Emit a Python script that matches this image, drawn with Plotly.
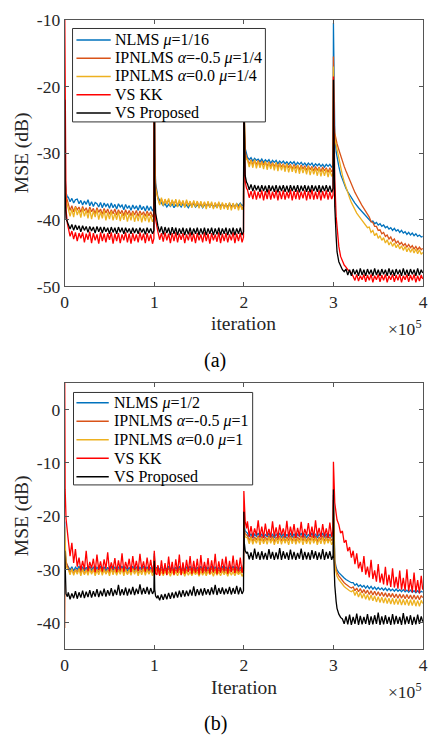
import plotly.graph_objects as go

W, H = 429, 746

# iteration grid in thousands (shared by both panels)
ITER_K = [
    0, 0.5, 1.5, 3, 4, 6, 8, 10, 12, 14, 16, 18, 20, 22, 24, 26, 28, 30, 32, 34, 36, 38, 40, 42, 44, 46, 48, 50, 52, 54, 56, 58, 60, 62, 64, 66, 68, 70, 72, 74, 76, 78, 80, 82, 84, 86, 88, 90, 92, 94, 96, 98, 99.6,
    100, 100.5, 101.5, 103, 104, 106, 108, 110, 112, 114, 116, 118, 120, 122, 124, 126, 128, 130, 132, 134, 136, 138, 140, 142, 144, 146, 148, 150, 152, 154, 156, 158, 160, 162, 164, 166, 168, 170, 172, 174, 176, 178, 180, 182, 184, 186, 188, 190, 192, 194, 196, 198, 199.6,
    200, 200.5, 201.5, 203, 204, 206, 208, 210, 212, 214, 216, 218, 220, 222, 224, 226, 228, 230, 232, 234, 236, 238, 240, 242, 244, 246, 248, 250, 252, 254, 256, 258, 260, 262, 264, 266, 268, 270, 272, 274, 276, 278, 280, 282, 284, 286, 288, 290, 292, 294, 296, 298, 299.6,
    300, 300.5, 301.5, 303, 304, 306, 308, 310, 312, 314, 316, 318, 320, 322, 324, 326, 328, 330, 332, 334, 336, 338, 340, 342, 344, 346, 348, 350, 352, 354, 356, 358, 360, 362, 364, 366, 368, 370, 372, 374, 376, 378, 380, 382, 384, 386, 388, 390, 392, 394, 396, 398, 399.6,
]

X_TICKS = [0, 100000, 200000, 300000, 400000]
X_TICKTEXT = ["0", "1", "2", "3", "4"]
YA_TICKS = [-50, -40, -30, -20, -10]
YB_TICKS = [-40, -30, -20, -10, 0]

NAMES_A = ["NLMS <i>μ</i>=1/16", "IPNLMS <i>α</i>=-0.5 <i>μ</i>=1/4", "IPNLMS <i>α</i>=0.0 <i>μ</i>=1/4", "VS KK", "VS Proposed"]
NAMES_B = ["NLMS <i>μ</i>=1/2", "IPNLMS <i>α</i>=-0.5 <i>μ</i>=1", "IPNLMS <i>α</i>=0.0 <i>μ</i>=1", "VS KK", "VS Proposed"]

# ---------------- panel (a) MSE (dB) ----------------
A_NLMS = [
    -24, -33.5, -35.9, -36.6, -36.6, -37.3, -36.8, -37.5, -37.0, -36.9, -37.6, -37.1, -37.8, -37.2, -37.7, -37.0, -37.9, -37.3, -38.0, -37.4, -37.6, -38.1, -37.4, -38.2, -37.5, -38.0, -37.6, -38.3, -37.5, -38.2, -37.7, -38.4, -37.6, -38.1, -37.8, -38.5, -37.7, -38.3, -37.9, -38.6, -37.8, -38.4, -37.9, -38.6, -37.8, -38.5, -38.0, -38.7, -37.9, -38.6, -38.0, -38.7, -38.3,
    -16, -30, -34.5, -36.2, -36.6, -37.1, -37.5, -37.9, -37.6, -38.1, -37.7, -38.0, -37.6, -38.2, -37.8, -38.0, -37.7, -38.1, -37.6, -38.0, -37.8, -38.2, -37.7, -37.9, -37.6, -38.1, -37.8, -38.0, -37.7, -38.2, -37.8, -37.9, -37.6, -38.1, -37.7, -38.0, -37.8, -38.2, -37.6, -37.9, -37.7, -38.1, -37.8, -38.0, -37.6, -38.0, -37.7, -38.1, -37.6, -37.9, -37.5, -37.9, -37.7,
    -20, -27, -29.3, -30.3, -30.6, -31.0, -30.7, -31.2, -30.8, -31.1, -30.9, -31.3, -30.9, -31.4, -31.0, -31.3, -31.0, -31.5, -31.1, -31.4, -31.1, -31.6, -31.2, -31.5, -31.2, -31.6, -31.3, -31.7, -31.3, -31.6, -31.3, -31.8, -31.4, -31.7, -31.4, -31.8, -31.5, -31.9, -31.5, -31.8, -31.5, -32.0, -31.6, -31.9, -31.6, -32.0, -31.7, -32.1, -31.7, -32.0, -31.7, -32.1, -31.9,
    -10.5, -22, -27, -29.8, -30.8, -32.0, -33.2, -34.0, -34.8, -35.3, -35.8, -36.3, -36.7, -37.1, -37.5, -37.9, -38.2, -38.5, -38.8, -39.1, -39.4, -39.6, -39.9, -40.3, -40.2, -40.6, -40.4, -40.8, -40.6, -41.0, -40.8, -41.2, -41.0, -41.4, -41.2, -41.6, -41.3, -41.7, -41.5, -41.9, -41.6, -42.0, -41.8, -42.2, -41.9, -42.3, -42.0, -42.4, -42.1, -42.5, -42.3, -42.6, -42.5,
]
A_IP05 = [
    -24, -34, -36.4, -37.3, -37.7, -38.6, -37.9, -38.8, -38.0, -38.5, -38.1, -38.9, -38.0, -38.7, -38.2, -39.0, -38.1, -38.8, -38.3, -39.1, -38.2, -38.9, -38.4, -39.2, -38.3, -39.0, -38.4, -39.2, -38.5, -39.1, -38.4, -39.3, -38.5, -39.1, -38.6, -39.4, -38.5, -39.2, -38.6, -39.4, -38.7, -39.3, -38.6, -39.5, -38.7, -39.3, -38.8, -39.5, -38.7, -39.4, -38.8, -39.6, -39.0,
    -18, -30.5, -35, -36.4, -36.8, -37.6, -36.9, -37.7, -37.0, -37.6, -37.0, -37.8, -37.1, -37.7, -37.1, -37.9, -37.2, -37.8, -37.2, -38.0, -37.2, -37.8, -37.3, -38.0, -37.3, -37.9, -37.3, -38.1, -37.4, -38.0, -37.4, -38.1, -37.4, -38.0, -37.5, -38.2, -37.5, -38.1, -37.5, -38.2, -37.6, -38.1, -37.6, -38.3, -37.6, -38.2, -37.6, -38.3, -37.7, -38.2, -37.7, -38.3, -38.0,
    -21, -27.5, -29.8, -30.7, -30.9, -31.7, -31.0, -31.8, -31.1, -31.7, -31.1, -31.9, -31.2, -31.8, -31.3, -32.0, -31.3, -32.1, -31.4, -32.0, -31.5, -32.2, -31.5, -32.1, -31.6, -32.3, -31.6, -32.2, -31.7, -32.4, -31.7, -32.3, -31.8, -32.5, -31.8, -32.4, -31.9, -32.6, -31.9, -32.5, -32.0, -32.7, -32.0, -32.6, -32.1, -32.8, -32.1, -32.7, -32.2, -32.9, -32.2, -32.8, -32.5,
    -15.5, -24.5, -27, -28.1, -28.6, -29.5, -30.4, -31.2, -32.0, -32.7, -33.4, -34.1, -34.7, -35.3, -35.9, -36.4, -37.0, -37.4, -37.9, -38.3, -38.8, -39.3, -39.6, -40.3, -40.4, -41.0, -41.0, -41.6, -41.5, -42.1, -41.9, -42.5, -42.3, -42.9, -42.6, -43.2, -42.9, -43.5, -43.2, -43.7, -43.4, -43.9, -43.6, -44.1, -43.7, -44.2, -43.9, -44.4, -44.0, -44.5, -44.1, -44.5, -44.3,
]
A_IP00 = [
    -25, -34.5, -36.9, -37.9, -38.2, -39.5, -38.4, -39.6, -38.1, -39.3, -38.5, -39.7, -38.3, -39.5, -38.6, -39.8, -38.4, -39.9, -38.7, -39.6, -38.5, -40.0, -38.8, -39.8, -38.6, -40.1, -38.9, -39.9, -38.7, -40.1, -39.0, -40.0, -38.8, -40.2, -39.0, -40.0, -38.9, -40.3, -39.1, -40.1, -38.9, -40.3, -39.2, -40.2, -39.0, -40.4, -39.2, -40.2, -39.1, -40.4, -39.3, -40.3, -39.8,
    -19, -31, -35.3, -36.5, -36.8, -37.8, -36.7, -37.9, -36.9, -37.7, -36.8, -38.0, -37.0, -37.9, -36.9, -38.1, -37.0, -37.9, -37.1, -38.2, -37.0, -38.0, -37.2, -38.2, -37.1, -38.1, -37.2, -38.3, -37.2, -38.2, -37.3, -38.4, -37.2, -38.2, -37.3, -38.4, -37.4, -38.3, -37.3, -38.5, -37.4, -38.4, -37.5, -38.5, -37.4, -38.6, -37.5, -38.4, -37.5, -38.6, -37.6, -38.5, -38.0,
    -22, -28, -30.2, -31.0, -31.0, -32.1, -31.1, -32.2, -31.0, -32.3, -31.2, -32.2, -31.3, -32.4, -31.2, -32.5, -31.4, -32.4, -31.5, -32.6, -31.4, -32.7, -31.6, -32.6, -31.7, -32.8, -31.6, -32.9, -31.8, -32.8, -31.9, -33.0, -31.8, -33.1, -32.0, -33.0, -32.1, -33.2, -32.0, -33.3, -32.2, -33.2, -32.3, -33.4, -32.2, -33.5, -32.4, -33.4, -32.4, -33.6, -32.5, -33.5, -33.0,
    -17, -25.5, -27.8, -28.8, -29.6, -30.9, -32.2, -33.3, -34.3, -35.2, -36.0, -36.7, -37.4, -38.0, -38.5, -39.0, -39.4, -39.8, -40.2, -40.5, -40.9, -41.2, -41.1, -41.9, -41.6, -42.4, -42.0, -42.8, -42.4, -43.1, -42.7, -43.5, -43.0, -43.8, -43.3, -44.0, -43.5, -44.2, -43.7, -44.4, -43.9, -44.6, -44.0, -44.8, -44.2, -44.9, -44.3, -45.0, -44.4, -45.1, -44.5, -45.2, -44.9,
]
A_VSKK = [
    -8, -31, -38.5, -40.6, -41.3, -42.5, -41.7, -42.9, -41.9, -43.2, -42.0, -42.8, -41.9, -43.4, -42.1, -43.0, -41.8, -43.5, -42.0, -43.1, -42.2, -43.6, -41.9, -43.2, -42.1, -43.4, -42.0, -43.0, -41.9, -43.6, -42.1, -43.2, -42.0, -43.5, -42.2, -43.1, -41.9, -43.4, -42.1, -43.6, -42.0, -43.2, -42.2, -43.4, -41.9, -43.1, -42.1, -43.5, -42.0, -43.2, -42.2, -43.6, -42.8,
    -14, -34, -40, -41.5, -41.8, -43.0, -42.0, -43.3, -41.9, -43.1, -42.1, -43.5, -42.0, -43.2, -41.9, -43.4, -42.1, -43.0, -42.0, -43.5, -42.2, -43.1, -41.9, -43.3, -42.1, -43.5, -42.0, -43.1, -42.2, -43.4, -41.9, -43.2, -42.1, -43.6, -42.0, -43.1, -42.2, -43.3, -41.9, -43.5, -42.1, -43.2, -42.0, -43.4, -42.2, -43.1, -41.9, -43.5, -42.1, -43.2, -42.0, -43.4, -42.6,
    -22, -31, -34.3, -35.3, -35.5, -36.7, -35.7, -36.9, -35.6, -37.0, -35.8, -36.8, -35.6, -37.1, -35.7, -36.9, -35.5, -37.0, -35.8, -36.8, -35.6, -37.1, -35.7, -36.9, -35.6, -37.0, -35.8, -36.8, -35.5, -37.1, -35.7, -36.9, -35.6, -37.0, -35.8, -36.8, -35.6, -37.1, -35.7, -36.9, -35.5, -37.0, -35.8, -36.9, -35.6, -37.1, -35.7, -36.8, -35.6, -37.0, -35.8, -36.9, -36.3,
    -18.5, -27, -34, -39.5, -41.5, -44.0, -45.5, -46.2, -46.8, -47.1, -47.5, -47.7, -48.0, -48.5, -49.1, -48.2, -49.2, -48.4, -49.0, -48.2, -49.3, -48.3, -49.1, -48.2, -49.4, -48.4, -49.0, -48.2, -49.3, -48.3, -49.1, -48.2, -49.4, -48.4, -49.0, -48.2, -49.3, -48.3, -49.1, -48.2, -49.4, -48.4, -49.0, -48.2, -49.3, -48.3, -49.1, -48.2, -49.4, -48.4, -49.2, -48.3, -48.9,
]
A_VSP = [
    -22, -36, -39.8, -40.4, -40.6, -41.4, -40.7, -41.6, -40.8, -41.5, -40.9, -41.8, -40.9, -41.6, -41.0, -41.9, -41.0, -41.7, -41.1, -42.0, -41.0, -41.8, -41.1, -42.0, -41.1, -41.8, -41.2, -42.1, -41.1, -41.9, -41.2, -42.1, -41.1, -41.9, -41.2, -42.1, -41.2, -41.9, -41.3, -42.1, -41.2, -42.0, -41.3, -42.1, -41.2, -41.9, -41.3, -42.2, -41.2, -42.0, -41.3, -42.1, -41.6,
    -13, -34, -39, -40.5, -40.9, -41.9, -41.0, -42.2, -41.1, -42.0, -41.2, -42.3, -41.1, -42.1, -41.2, -42.3, -41.3, -42.1, -41.2, -42.3, -41.3, -42.2, -41.2, -42.3, -41.3, -42.1, -41.2, -42.3, -41.3, -42.2, -41.2, -42.3, -41.3, -42.1, -41.2, -42.3, -41.3, -42.2, -41.2, -42.3, -41.3, -42.1, -41.2, -42.3, -41.3, -42.2, -41.2, -42.3, -41.3, -42.1, -41.2, -42.3, -41.8,
    -20, -30, -33.4, -34.4, -34.6, -35.5, -34.7, -35.7, -34.8, -35.6, -34.9, -35.8, -34.8, -35.7, -34.9, -35.9, -34.8, -35.7, -34.9, -35.8, -34.8, -35.9, -34.9, -35.7, -34.8, -35.8, -34.9, -35.9, -34.8, -35.7, -34.9, -35.8, -34.8, -35.9, -34.9, -35.7, -34.8, -35.8, -34.9, -35.9, -34.8, -35.7, -34.9, -35.8, -34.8, -35.9, -34.9, -35.7, -34.8, -35.8, -34.9, -35.9, -35.3,
    -19, -31, -38, -42.5, -44.8, -46.3, -47.0, -47.5, -47.8, -47.4, -48.3, -47.5, -48.4, -47.4, -48.2, -47.5, -48.4, -47.3, -48.3, -47.5, -48.4, -47.4, -48.2, -47.5, -48.4, -47.3, -48.3, -47.5, -48.4, -47.4, -48.2, -47.5, -48.4, -47.3, -48.3, -47.5, -48.4, -47.4, -48.2, -47.5, -48.4, -47.3, -48.3, -47.5, -48.4, -47.4, -48.2, -47.5, -48.4, -47.3, -48.3, -47.5, -48.0,
]

# ---------------- panel (b) MSE (dB) ----------------
B_NLMS = [
    -21, -27, -28.8, -29.3, -29.4, -30.1, -29.5, -30.3, -29.6, -30.0, -29.4, -30.2, -29.5, -30.3, -29.6, -30.1, -29.4, -30.2, -29.5, -30.3, -29.6, -30.0, -29.4, -30.2, -29.5, -30.3, -29.6, -30.1, -29.4, -30.2, -29.5, -30.3, -29.6, -30.0, -29.4, -30.2, -29.5, -30.3, -29.6, -30.1, -29.4, -30.2, -29.5, -30.3, -29.6, -30.0, -29.4, -30.2, -29.5, -30.3, -29.6, -30.1, -29.8,
    -27, -29.0, -29.6, -29.8, -29.4, -30.1, -29.5, -30.3, -29.6, -30.0, -29.4, -30.2, -29.5, -30.3, -29.6, -30.1, -29.4, -30.2, -29.5, -30.3, -29.6, -30.0, -29.4, -30.2, -29.5, -30.3, -29.6, -30.1, -29.4, -30.2, -29.5, -30.3, -29.6, -30.0, -29.4, -30.2, -29.5, -30.3, -29.6, -30.1, -29.4, -30.2, -29.5, -30.3, -29.6, -30.0, -29.4, -30.2, -29.5, -30.3, -29.6, -30.1, -29.8,
    -19, -22, -22.8, -23.1, -23.2, -23.9, -23.3, -24.1, -23.4, -23.8, -23.2, -24.0, -23.3, -24.1, -23.4, -23.9, -23.2, -24.0, -23.3, -24.1, -23.4, -23.8, -23.2, -24.0, -23.3, -24.1, -23.4, -23.9, -23.2, -24.0, -23.3, -24.1, -23.4, -23.8, -23.2, -24.0, -23.3, -24.1, -23.4, -23.9, -23.2, -24.0, -23.3, -24.1, -23.4, -23.8, -23.2, -24.0, -23.3, -24.1, -23.4, -23.9, -23.6,
    -16, -25, -28.2, -29.6, -30.1, -30.6, -31.0, -31.3, -31.6, -31.9, -32.1, -32.3, -32.5, -32.5, -33.0, -32.7, -33.2, -32.9, -33.3, -33.0, -33.5, -33.1, -33.6, -33.2, -33.7, -33.3, -33.8, -33.4, -33.8, -33.5, -33.9, -33.5, -34.0, -33.6, -34.0, -33.7, -34.1, -33.7, -34.1, -33.8, -34.2, -33.8, -34.2, -33.9, -34.3, -33.9, -34.3, -34.0, -34.4, -34.0, -34.4, -34.1, -34.3,
]
B_IP05 = [
    -41, -26, -28.5, -29.6, -29.8, -30.6, -29.9, -30.8, -30.0, -30.5, -29.8, -30.7, -29.9, -30.8, -30.0, -30.6, -29.8, -30.7, -29.9, -30.8, -30.0, -30.5, -29.8, -30.7, -29.9, -30.8, -30.0, -30.6, -29.8, -30.7, -29.9, -30.8, -30.0, -30.5, -29.8, -30.7, -29.9, -30.8, -30.0, -30.6, -29.8, -30.7, -29.9, -30.8, -30.0, -30.5, -29.8, -30.7, -29.9, -30.8, -30.0, -30.6, -30.2,
    -27.5, -29.3, -29.8, -30.0, -29.8, -30.6, -29.9, -30.8, -30.0, -30.5, -29.8, -30.7, -29.9, -30.8, -30.0, -30.6, -29.8, -30.7, -29.9, -30.8, -30.0, -30.5, -29.8, -30.7, -29.9, -30.8, -30.0, -30.6, -29.8, -30.7, -29.9, -30.8, -30.0, -30.5, -29.8, -30.7, -29.9, -30.8, -30.0, -30.6, -29.8, -30.7, -29.9, -30.8, -30.0, -30.5, -29.8, -30.7, -29.9, -30.8, -30.0, -30.6, -30.2,
    -19, -22.5, -23.3, -23.6, -23.7, -24.6, -23.8, -24.8, -23.9, -24.5, -23.7, -24.7, -23.8, -24.8, -23.9, -24.6, -23.7, -24.7, -23.8, -24.8, -23.9, -24.5, -23.7, -24.7, -23.8, -24.8, -23.9, -24.6, -23.7, -24.7, -23.8, -24.8, -23.9, -24.5, -23.7, -24.7, -23.8, -24.8, -23.9, -24.6, -23.7, -24.7, -23.8, -24.8, -23.9, -24.5, -23.7, -24.7, -23.8, -24.8, -23.9, -24.6, -24.2,
    -17, -25.5, -28.7, -30.0, -30.6, -31.2, -31.7, -32.1, -32.5, -32.8, -33.1, -33.3, -33.5, -33.3, -34.0, -33.5, -34.2, -33.6, -34.4, -33.8, -34.5, -33.9, -34.7, -34.0, -34.8, -34.1, -34.9, -34.2, -35.0, -34.3, -35.1, -34.4, -35.2, -34.5, -35.2, -34.5, -35.3, -34.6, -35.4, -34.6, -35.4, -34.7, -35.5, -34.7, -35.5, -34.8, -35.6, -34.8, -35.6, -34.9, -35.7, -34.9, -35.3,
]
B_IP00 = [
    -22, -27.5, -29.3, -29.9, -30.0, -31.0, -29.9, -31.1, -30.1, -30.9, -29.9, -31.2, -30.0, -31.0, -30.1, -31.1, -29.9, -30.9, -30.0, -31.2, -30.1, -31.0, -29.9, -31.1, -30.0, -30.9, -30.1, -31.2, -29.9, -31.0, -30.0, -31.1, -30.1, -30.9, -29.9, -31.2, -30.0, -31.0, -30.1, -31.1, -29.9, -30.9, -30.0, -31.2, -30.1, -31.0, -29.9, -31.1, -30.0, -30.9, -30.1, -31.2, -30.6,
    -28, -29.8, -30.2, -30.3, -30.3, -31.1, -30.4, -31.2, -30.3, -31.0, -30.4, -31.3, -30.3, -31.1, -30.4, -31.2, -30.3, -31.0, -30.4, -31.3, -30.3, -31.1, -30.4, -31.2, -30.3, -31.0, -30.4, -31.3, -30.3, -31.1, -30.4, -31.2, -30.3, -31.0, -30.4, -31.3, -30.3, -31.1, -30.4, -31.2, -30.3, -31.0, -30.4, -31.3, -30.3, -31.1, -30.4, -31.2, -30.3, -31.0, -30.4, -31.3, -30.8,
    -20, -23, -23.9, -24.1, -24.1, -25.2, -24.0, -25.3, -24.2, -25.1, -24.0, -25.4, -24.1, -25.2, -24.2, -25.3, -24.0, -25.1, -24.1, -25.4, -24.2, -25.2, -24.0, -25.3, -24.1, -25.1, -24.2, -25.4, -24.0, -25.2, -24.1, -25.3, -24.2, -25.1, -24.0, -25.4, -24.1, -25.2, -24.2, -25.3, -24.0, -25.1, -24.1, -25.4, -24.2, -25.2, -24.0, -25.3, -24.1, -25.1, -24.2, -25.4, -24.7,
    -18, -26, -29.2, -30.6, -31.3, -31.9, -32.4, -32.8, -33.2, -33.5, -33.8, -34.0, -34.2, -33.9, -34.9, -34.1, -35.2, -34.3, -35.4, -34.5, -35.6, -34.7, -35.8, -34.8, -35.9, -35.0, -36.1, -35.1, -36.2, -35.2, -36.3, -35.3, -36.4, -35.4, -36.5, -35.4, -36.6, -35.5, -36.6, -35.5, -36.7, -35.6, -36.7, -35.6, -36.8, -35.7, -36.8, -35.7, -36.9, -35.8, -36.9, -35.8, -36.4,
]
B_VSKK = [
    6, -15, -20.5, -23.5, -24.5, -27.5, -25.0, -28.8, -26.2, -29.5, -27.8, -30.2, -28.4, -30.0, -26.5, -30.3, -28.6, -29.8, -28.0, -30.5, -27.2, -30.1, -28.5, -30.4, -28.1, -29.9, -26.8, -30.3, -28.7, -30.0, -27.9, -30.5, -28.3, -30.2, -27.0, -30.4, -28.6, -29.9, -28.0, -30.5, -27.5, -30.1, -28.4, -30.3, -27.1, -30.0, -28.5, -30.4, -27.8, -30.2, -28.2, -30.5, -28.8,
    -26.5, -29.5, -30.8, -31.0, -29.2, -31.2, -28.3, -30.9, -28.8, -31.1, -27.6, -30.7, -28.6, -31.0, -28.1, -30.6, -27.2, -31.1, -28.7, -30.8, -28.2, -30.5, -27.5, -30.9, -28.4, -30.6, -28.0, -31.0, -27.3, -30.7, -28.6, -30.4, -27.9, -30.8, -28.3, -30.5, -27.1, -30.9, -28.5, -30.6, -28.0, -30.3, -27.6, -30.8, -28.4, -30.5, -27.4, -30.7, -28.2, -30.4, -27.8, -30.6, -29.0,
    -15.3, -19.5, -21.0, -22.3, -21.0, -23.8, -21.9, -24.0, -22.3, -23.6, -20.8, -23.9, -22.0, -24.1, -21.4, -23.7, -22.4, -24.0, -21.0, -23.8, -22.1, -24.1, -21.6, -23.6, -22.3, -23.9, -20.9, -24.0, -22.0, -23.7, -21.5, -24.1, -22.2, -23.8, -21.1, -24.0, -22.4, -23.6, -21.3, -23.9, -22.0, -24.1, -20.8, -23.7, -22.2, -24.0, -21.5, -23.8, -22.3, -24.1, -21.2, -23.9, -22.6,
    -9.8, -14.5, -17.5, -19.5, -20.7, -21.6, -23.2, -22.8, -25.0, -24.5, -26.6, -25.8, -27.8, -26.5, -29.0, -27.0, -29.8, -28.6, -30.5, -27.5, -31.0, -29.5, -31.5, -28.2, -31.8, -30.2, -32.3, -29.0, -32.5, -30.8, -32.8, -29.5, -33.0, -31.0, -33.3, -29.8, -33.4, -31.4, -33.6, -30.2, -33.8, -31.6, -34.0, -30.0, -34.1, -31.8, -34.3, -30.6, -34.3, -32.0, -34.5, -31.2, -33.8,
]
B_VSP = [
    -26.5, -32.5, -34.6, -35.1, -34.3, -35.6, -34.5, -35.4, -34.1, -35.5, -34.3, -35.3, -34.0, -35.4, -34.2, -35.2, -33.9, -35.3, -34.1, -35.1, -33.7, -35.2, -34.0, -35.0, -33.6, -35.1, -33.9, -34.9, -33.5, -35.0, -33.8, -34.8, -32.9, -34.9, -33.7, -34.8, -33.4, -34.9, -33.6, -34.7, -33.3, -34.8, -33.6, -34.6, -32.8, -34.7, -33.5, -34.6, -33.3, -34.7, -33.5, -34.6, -34.0,
    -28.4, -33.8, -35.0, -35.4, -34.9, -35.8, -34.7, -35.7, -34.6, -35.6, -34.4, -35.5, -34.3, -35.4, -34.2, -35.3, -34.0, -35.2, -33.9, -35.1, -34.0, -35.0, -33.8, -34.9, -33.2, -35.0, -33.7, -34.8, -33.6, -34.9, -33.5, -34.7, -33.7, -34.8, -33.4, -34.7, -32.9, -34.8, -33.5, -34.6, -33.4, -34.7, -33.6, -34.6, -33.3, -34.7, -33.5, -34.6, -33.1, -34.7, -33.4, -34.6, -34.0,
    -19.2, -25.0, -26.5, -27.0, -26.7, -28.1, -26.8, -28.2, -26.1, -28.0, -26.7, -28.2, -26.6, -28.1, -26.9, -28.2, -26.2, -28.0, -26.7, -28.2, -26.8, -28.1, -26.0, -28.2, -26.6, -28.0, -26.8, -28.2, -26.3, -28.1, -26.7, -28.2, -26.9, -28.0, -26.1, -28.2, -26.7, -28.1, -26.8, -28.2, -26.4, -28.0, -26.6, -28.2, -26.8, -28.1, -26.2, -28.2, -26.7, -28.0, -26.6, -28.2, -27.4,
    -15, -28, -33, -36, -37.3, -38.4, -39.0, -39.3, -40.2, -38.8, -40.3, -38.5, -40.4, -38.9, -40.2, -38.3, -40.4, -38.7, -40.3, -38.9, -40.2, -38.4, -40.4, -38.8, -40.3, -38.6, -40.2, -38.1, -40.4, -38.8, -40.3, -38.6, -40.2, -38.9, -40.4, -38.4, -40.3, -38.7, -40.2, -38.9, -40.4, -38.2, -40.3, -38.8, -40.2, -38.6, -40.4, -38.9, -40.3, -38.5, -40.2, -38.8, -39.8,
]

COLORS = ["#0072BD", "#D95319", "#EDB120", "#FF0000", "#000000"]
FONT = "Liberation Serif"
TXT = "#262626"
AX = "#555555"

x_iter = [k * 1000 for k in ITER_K]

fig = go.Figure()
for name, ys, col in zip(NAMES_A, [A_NLMS, A_IP05, A_IP00, A_VSKK, A_VSP], COLORS):
    assert len(ys) == len(ITER_K), (name, len(ys), len(ITER_K))
    fig.add_trace(go.Scatter(x=x_iter, y=ys, mode="lines", name=name, showlegend=False,
                             line=dict(color=col, width=1.3), xaxis="x", yaxis="y"))
for name, ys, col in zip(NAMES_B, [B_NLMS, B_IP05, B_IP00, B_VSKK, B_VSP], COLORS):
    assert len(ys) == len(ITER_K), (name, len(ys), len(ITER_K))
    fig.add_trace(go.Scatter(x=x_iter, y=ys, mode="lines", name=name, showlegend=False,
                             line=dict(color=col, width=1.3), xaxis="x2", yaxis="y2"))


def px_x(p):
    return p / W


def px_y(p):
    return 1 - p / H


axis_common = dict(showline=True, linecolor=AX, linewidth=1, mirror="ticks",
                   ticks="inside", ticklen=4, tickcolor=AX, showgrid=False,
                   zeroline=False, tickfont=dict(family=FONT, size=17.5, color=TXT))

xdom = [px_x(62), px_x(428)]
fig.update_layout(
    autosize=True, margin=dict(l=0, r=0, t=0, b=0),
    paper_bgcolor="white", plot_bgcolor="white", showlegend=False,
    xaxis=dict(domain=xdom, range=[0, 400000], tickmode="array", tickvals=X_TICKS,
               ticktext=X_TICKTEXT, anchor="y", ticklabeloverflow="allow", **axis_common),
    yaxis=dict(domain=[px_y(284), px_y(10)], range=[-50, -10], tickmode="array",
               tickvals=YA_TICKS, ticktext=[str(v) for v in YA_TICKS], anchor="x", **axis_common),
    xaxis2=dict(domain=xdom, range=[0, 400000], tickmode="array", tickvals=X_TICKS,
                ticktext=X_TICKTEXT, anchor="y2", ticklabeloverflow="allow", **axis_common),
    yaxis2=dict(domain=[px_y(657), px_y(383)], range=[-45, 5], tickmode="array",
                tickvals=YB_TICKS, ticktext=[str(v) for v in YB_TICKS], anchor="x2", **axis_common),
)

# legend boxes drawn as paper shapes + text (MATLAB-style compact spacing)
shapes = []
annotations = []
LEG = [
    dict(box=(70, 19, 267, 115), rows=[30.7, 49.5, 68.3, 87.1, 105.9], line=(74, 109), tx=111, names=NAMES_A),
    dict(box=(71, 393, 254, 488), rows=[403.5, 422.5, 441.5, 460.5, 479.5], line=(74, 107), tx=110, names=NAMES_B),
]
for lg in LEG:
    x0, y0, x1, y1 = lg["box"]
    shapes.append(dict(type="rect", xref="paper", yref="paper", x0=px_x(x0), x1=px_x(x1),
                       y0=px_y(y1), y1=px_y(y0), fillcolor="white",
                       line=dict(color="#333333", width=1), layer="above"))
    for yy, nm, col in zip(lg["rows"], lg["names"], COLORS):
        shapes.append(dict(type="line", xref="paper", yref="paper", x0=px_x(lg["line"][0]),
                           x1=px_x(lg["line"][1]), y0=px_y(yy), y1=px_y(yy),
                           line=dict(color=col, width=1.5), layer="above"))
        annotations.append(dict(text=nm, x=px_x(lg["tx"]), y=px_y(yy), xanchor="left",
                                font=dict(family=FONT, size=16, color="#000000")))

ann_font = dict(family=FONT, size=19.5, color=TXT)
annotations += [
    dict(text="MSE (dB)", x=px_x(18.5), y=px_y(147), textangle=-90, font=ann_font),
    dict(text="MSE (dB)", x=px_x(18.5), y=px_y(520), textangle=-90, font=ann_font),
    dict(text="iteration", x=px_x(245), y=px_y(322), font=ann_font),
    dict(text="Iteration", x=px_x(245), y=px_y(696), font=ann_font),
    dict(text="×10<sup>5</sup>", x=1.0, xanchor="right", y=px_y(327),
         font=dict(family=FONT, size=17.5, color=TXT)),
    dict(text="×10<sup>5</sup>", x=1.0, xanchor="right", y=px_y(700),
         font=dict(family=FONT, size=17.5, color=TXT)),
    dict(text="(a)", x=px_x(216), y=px_y(360), font=dict(family=FONT, size=20, color="#000000")),
    dict(text="(b)", x=px_x(216), y=px_y(733), font=dict(family=FONT, size=20, color="#000000")),
]
for a in annotations:
    a.setdefault("xanchor", "center")
    a["yanchor"] = "middle"
    a["xref"] = "paper"
    a["yref"] = "paper"
    a["showarrow"] = False
fig.update_layout(shapes=shapes, annotations=annotations)

# pin the plot div to the page origin so the browser's default body margin
# does not push it outside the 429x746 window
fig.write_html("out.html", config={"displayModeBar": False},
               default_width="429px", default_height="746px;position:absolute;left:0;top:0")
